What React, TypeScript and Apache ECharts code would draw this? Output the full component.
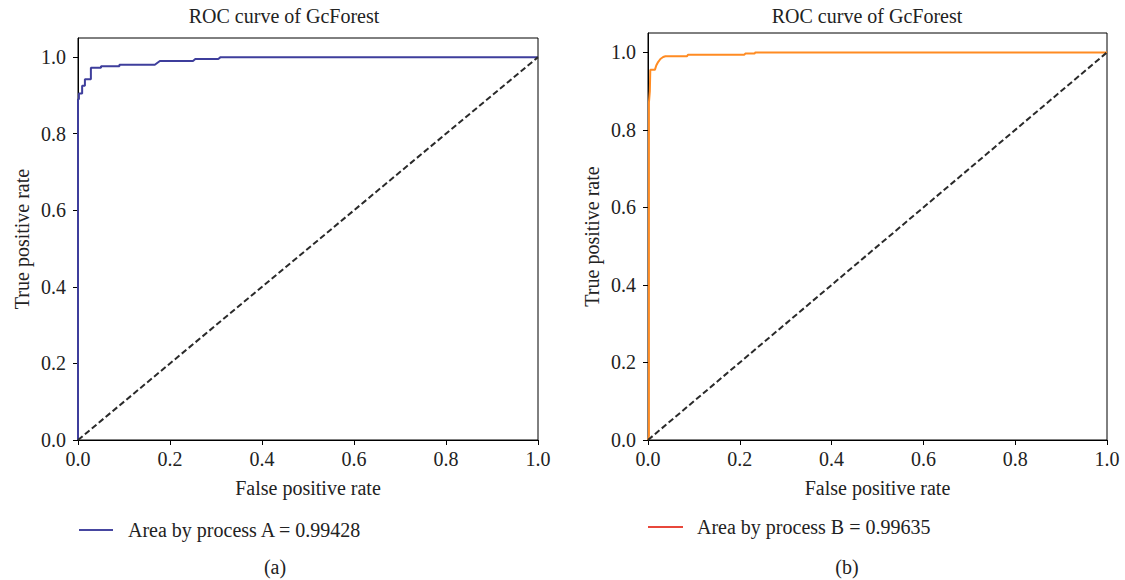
import React, { useEffect, useRef } from "react";
import * as echarts from "echarts";

const titles = ["ROC curve of GcForest", "ROC curve of GcForest"];
const xName = "False positive rate";
const yName = "True positive rate";
const legendLabels = ["Area by process A = 0.99428", "Area by process B = 0.99635"];
const captions = ["(a)", "(b)"];
const tickValues = [0, 0.2, 0.4, 0.6, 0.8, 1.0];

const fprA = [0, 0, 0.002, 0.002, 0.009, 0.009, 0.015, 0.015, 0.028, 0.028, 0.05, 0.05, 0.09, 0.09, 0.167, 0.178, 0.25, 0.255, 0.305, 0.31, 1.0];
const tprA = [0, 0.89, 0.89, 0.905, 0.905, 0.925, 0.925, 0.942, 0.942, 0.972, 0.972, 0.976, 0.976, 0.98, 0.98, 0.99, 0.99, 0.995, 0.995, 1.0, 1.0];

const fprB = [0, 0.002, 0.002, 0.004, 0.005, 0.015, 0.018, 0.022, 0.027, 0.033, 0.038, 0.085, 0.087, 0.21, 0.212, 0.232, 0.234, 1.0];
const tprB = [0, 0.01, 0.87, 0.9, 0.955, 0.955, 0.966, 0.975, 0.983, 0.988, 0.99, 0.99, 0.994, 0.994, 0.997, 0.997, 1.0, 1.0];

const diagX = [0, 1];
const diagY = [0, 1];

const FONT = "'Liberation Serif', 'DejaVu Serif', serif";
const colorA = "#3e3e9c";
const colorB = "#ff8b22";
const legendColorA = "#4646a0";
const legendColorB = "#e8473b";

const grids = [
  { left: 78, top: 38, width: 460, height: 402 },
  { left: 648, top: 33, width: 459, height: 407 },
];

function zip(xs: number[], ys: number[]) {
  return xs.map((x, i) => [x, ys[i]]);
}

export default function App() {
  const ref = useRef<HTMLDivElement>(null);
  useEffect(() => {
    if (!ref.current) return;
    const chart = echarts.init(ref.current, undefined, { renderer: "svg" });
    const xAxes = grids.map((_, i) => ({
      type: "value",
      gridIndex: i,
      min: 0,
      max: 1,
      interval: 0.2,
      name: xName,
      nameLocation: "middle",
      nameGap: 38,
      nameTextStyle: { fontFamily: FONT, fontSize: 20, color: "#222" },
      axisLine: { show: true, lineStyle: { color: "#000", width: 1 } },
      axisTick: { show: true, inside: false, length: 5, lineStyle: { color: "#000" }, customValues: tickValues },
      axisLabel: {
        fontFamily: FONT,
        fontSize: 20,
        color: "#222",
        margin: 9,
        customValues: tickValues,
        formatter: (v: number) => v.toFixed(1),
      },
      splitLine: { show: false },
    }));
    const yAxes = grids.map((_, i) => ({
      type: "value",
      gridIndex: i,
      min: 0,
      max: 1.05,
      name: yName,
      nameLocation: "middle",
      nameGap: 46,
      nameTextStyle: { fontFamily: FONT, fontSize: 20, color: "#222" },
      axisLine: { show: true, lineStyle: { color: "#000", width: 1 } },
      axisTick: { show: true, inside: false, length: 5, lineStyle: { color: "#000" }, customValues: tickValues },
      axisLabel: {
        fontFamily: FONT,
        fontSize: 20,
        color: "#222",
        margin: 12,
        customValues: tickValues,
        formatter: (v: number) => v.toFixed(1),
      },
      splitLine: { show: false },
    }));
    const diagStyle = { color: "#2a2a2a", width: 2, type: [6, 3] };
    const series = [
      {
        type: "line",
        xAxisIndex: 0,
        yAxisIndex: 0,
        data: zip(fprA, tprA),
        showSymbol: false,
        clip: false,
        lineStyle: { color: colorA, width: 2 },
        z: 3,
      },
      {
        type: "line",
        xAxisIndex: 0,
        yAxisIndex: 0,
        data: zip(diagX, diagY),
        showSymbol: false,
        lineStyle: diagStyle,
        z: 4,
      },
      {
        type: "line",
        xAxisIndex: 1,
        yAxisIndex: 1,
        data: zip(fprB, tprB),
        showSymbol: false,
        clip: false,
        lineStyle: { color: colorB, width: 2 },
        z: 3,
      },
      {
        type: "line",
        xAxisIndex: 1,
        yAxisIndex: 1,
        data: zip(diagX, diagY),
        showSymbol: false,
        lineStyle: diagStyle,
        z: 4,
      },
    ];
    const textStyle = (x: number, y: number, text: string, align = "center") => ({
      type: "text",
      x,
      y,
      style: {
        text,
        fontFamily: FONT,
        fontSize: 20,
        fill: "#222",
        textAlign: align,
        textVerticalAlign: "middle",
      },
    });
    const graphic = [
      textStyle(284, 16, titles[0]),
      textStyle(867, 16, titles[1]),
      {
        type: "line",
        shape: { x1: 79, y1: 530, x2: 113, y2: 530 },
        style: { stroke: legendColorA, lineWidth: 2 },
      },
      textStyle(128, 530, legendLabels[0], "left"),
      {
        type: "line",
        shape: { x1: 648, y1: 527, x2: 683, y2: 527 },
        style: { stroke: legendColorB, lineWidth: 2 },
      },
      textStyle(697, 527, legendLabels[1], "left"),
      textStyle(275, 567, captions[0]),
      textStyle(847, 567, captions[1]),
    ];
    chart.setOption({
      animation: false,
      backgroundColor: "#fff",
      grid: grids.map((g) => ({ ...g, show: true, borderColor: "#000", borderWidth: 1, backgroundColor: "transparent" })),
      xAxis: xAxes,
      yAxis: yAxes,
      series,
      graphic,
    });
    return () => chart.dispose();
  }, []);
  return (
    <div
      ref={ref}
      style={{ position: "fixed", left: 0, top: 0, width: 1125, height: 580 }}
    />
  );
}
